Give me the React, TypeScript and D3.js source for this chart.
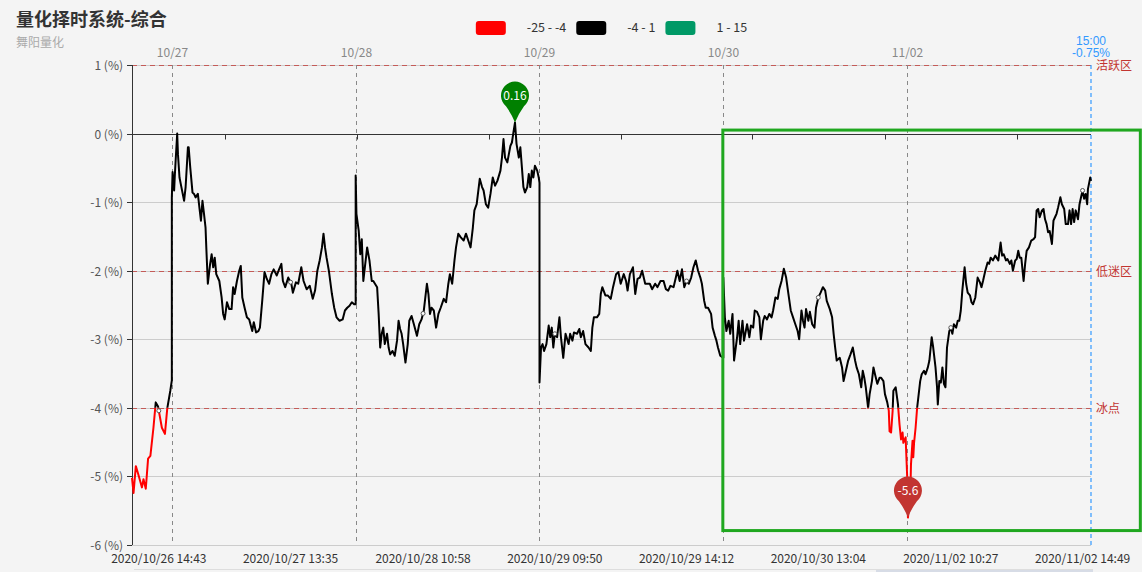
import React, { useEffect, useRef } from 'react';
import * as d3 from 'd3';

const W = 1142;
const H = 572;
const FONT = "'Noto Sans CJK SC', 'Noto Sans', sans-serif";
const FONT_TIGHT = "'Liberation Sans', 'Noto Sans CJK SC', sans-serif";

const title = '量化择时系统-综合';
const subtitle = '舞阳量化';

const pieceLabels = ['-25 - -4', '-4 - 1', '1 - 15'];
const pieceBounds: [number, number][] = [[-25, -4], [-4, 1], [1, 15]];
const pieceColors = ['#ff0000', '#000000', '#009966'];

const yTicks = [1, 0, -1, -2, -3, -4, -5, -6];
const zoneValues = [1, -2, -4];
const zoneLabels = ['活跃区', '低迷区', '冰点'];

const days = ['10/26', '10/27', '10/28', '10/29', '10/30', '11/02'];
const firstDayStartMinute = 188;
const minutesPerDay = 240;

// [minute of trading day, value %]
const d1026 = [[188,-5.02],[190,-5.24],[193,-4.85],[196,-4.96],[201,-5.16],[203,-5.04],[206,-5.18],[209,-4.74],[212,-4.70],[216,-4.29],[219,-3.92],[222,-3.98],[227,-4.29],[231,-4.38],[234,-4.01],[238,-3.75],[240,-3.6]];
const d1027 = [[0,-0.93],[1,-0.56],[3,-0.83],[4,-0.59],[5,-0.39],[7,0.0],[8,-0.30],[10,-0.64],[13,-0.81],[16,-0.98],[18,-0.78],[21,-0.2],[22,-0.2],[24,-0.49],[27,-0.86],[29,-0.88],[31,-0.93],[34,-0.88],[36,-1.08],[38,-1.27],[40,-0.98],[42,-1.17],[44,-1.37],[45,-1.66],[47,-2.19],[50,-1.90],[52,-1.76],[54,-1.95],[56,-1.81],[58,-2.05],[62,-2.15],[65,-2.39],[67,-2.63],[69,-2.71],[72,-2.46],[75,-2.56],[78,-2.56],[80,-2.24],[82,-2.34],[85,-2.15],[88,-2.0],[90,-1.93],[92,-2.39],[95,-2.54],[98,-2.68],[101,-2.71],[105,-2.88],[107,-2.75],[110,-2.90],[113,-2.88],[115,-2.83],[118,-2.44],[121,-2.02],[124,-2.12],[127,-2.19],[130,-2.05],[133,-1.98],[137,-2.07],[140,-1.98],[143,-1.90],[145,-2.15],[148,-2.24],[152,-2.10],[156,-2.19],[158,-2.32],[162,-2.17],[165,-2.19],[169,-1.95],[172,-2.15],[176,-2.27],[180,-2.22],[184,-2.41],[187,-2.29],[190,-2.0],[193,-1.85],[196,-1.66],[198,-1.46],[200,-1.66],[202,-1.81],[205,-2.0],[209,-2.34],[212,-2.54],[215,-2.68],[219,-2.73],[223,-2.71],[226,-2.58],[229,-2.54],[232,-2.51],[235,-2.46],[238,-2.49],[240,-2.49]];
const d1028 = [[0,-0.61],[1,-1.17],[4,-1.42],[6,-1.76],[8,-1.54],[10,-2.15],[12,-1.95],[15,-1.66],[18,-1.85],[21,-2.15],[23,-2.15],[28,-2.24],[30,-2.63],[32,-3.12],[34,-2.92],[36,-2.83],[38,-3.07],[41,-2.92],[43,-3.12],[45,-3.22],[48,-3.17],[51,-3.24],[54,-3.02],[56,-2.73],[58,-2.85],[60,-2.92],[62,-3.07],[65,-3.34],[68,-3.07],[70,-2.73],[73,-2.66],[76,-2.78],[80,-2.95],[83,-2.78],[86,-2.71],[89,-2.58],[93,-2.19],[95,-2.34],[97,-2.63],[99,-2.54],[102,-2.58],[105,-2.83],[108,-2.63],[111,-2.54],[115,-2.41],[118,-2.46],[121,-2.19],[123,-2.05],[126,-2.19],[129,-1.85],[131,-1.66],[134,-1.46],[137,-1.51],[141,-1.56],[144,-1.46],[147,-1.56],[150,-1.66],[153,-1.37],[155,-1.12],[158,-1.03],[162,-0.66],[165,-0.78],[167,-0.83],[170,-1.03],[173,-1.08],[176,-0.88],[179,-0.64],[182,-0.76],[185,-0.69],[189,-0.54],[191,-0.35],[193,-0.08],[195,-0.35],[198,-0.42],[200,-0.30],[202,-0.18],[204,-0.13],[206,0.02],[208,0.16],[210,-0.15],[213,-0.35],[215,-0.2],[217,-0.49],[219,-0.78],[221,-0.86],[224,-0.78],[226,-0.59],[228,-0.78],[230,-0.54],[232,-0.64],[234,-0.47],[237,-0.54],[239,-0.64],[240,-0.72]];
const d1029 = [[0,-3.63],[2,-3.12],[4,-3.07],[6,-3.17],[9,-3.07],[12,-2.80],[14,-2.97],[16,-2.83],[18,-3.12],[20,-2.92],[23,-2.97],[26,-2.68],[28,-2.97],[31,-3.27],[34,-2.92],[38,-3.07],[40,-2.92],[43,-3.02],[45,-2.90],[49,-2.92],[52,-2.85],[54,-2.97],[57,-2.88],[60,-3.07],[64,-3.12],[67,-3.17],[69,-2.83],[71,-2.68],[75,-2.68],[78,-2.63],[80,-2.34],[82,-2.24],[86,-2.36],[89,-2.36],[93,-2.41],[96,-2.24],[100,-2.05],[103,-2.02],[106,-2.19],[110,-2.05],[113,-2.15],[115,-2.29],[118,-2.05],[122,-1.95],[125,-2.34],[128,-2.12],[131,-2.10],[134,-2.0],[138,-2.19],[141,-2.19],[144,-2.19],[147,-2.27],[151,-2.19],[154,-2.24],[158,-2.15],[162,-2.15],[165,-2.27],[168,-2.29],[171,-2.22],[175,-2.24],[178,-2.10],[180,-2.0],[183,-2.15],[186,-1.98],[189,-2.24],[192,-2.15],[195,-2.19],[198,-2.10],[201,-1.95],[204,-1.85],[207,-2.0],[210,-2.10],[212,-2.19],[215,-2.44],[217,-2.54],[220,-2.54],[224,-2.63],[226,-2.83],[229,-2.95],[231,-3.02],[233,-3.12],[236,-3.24],[240,-3.27]];
const d1030 = [[0,-2.10],[2,-2.68],[4,-2.88],[7,-2.73],[9,-2.92],[12,-2.63],[14,-3.31],[18,-2.97],[20,-2.73],[22,-3.07],[25,-2.73],[27,-3.02],[31,-2.78],[34,-2.97],[36,-2.80],[39,-2.83],[41,-2.58],[44,-2.60],[47,-2.68],[49,-3.0],[52,-2.73],[54,-2.66],[57,-2.71],[60,-2.63],[63,-2.68],[65,-2.58],[68,-2.39],[71,-2.41],[73,-2.27],[76,-2.15],[79,-1.97],[82,-2.10],[85,-2.34],[88,-2.58],[91,-2.68],[94,-2.78],[97,-2.88],[99,-3.0],[102,-2.58],[104,-2.73],[106,-2.83],[108,-2.56],[111,-2.73],[113,-2.60],[116,-2.78],[119,-2.83],[121,-2.54],[124,-2.39],[127,-2.32],[130,-2.24],[133,-2.29],[135,-2.44],[139,-2.56],[142,-2.68],[144,-2.92],[146,-3.12],[148,-3.31],[152,-3.27],[155,-3.41],[157,-3.61],[160,-3.46],[163,-3.31],[166,-3.22],[169,-3.12],[172,-3.31],[174,-3.41],[177,-3.51],[180,-3.70],[182,-3.46],[184,-3.56],[186,-3.70],[189,-4.0],[191,-3.80],[194,-3.61],[196,-3.41],[198,-3.51],[201,-3.65],[204,-3.56],[206,-3.56],[209,-3.61],[211,-3.80],[214,-3.92],[216,-4.04],[217,-4.34],[219,-4.36],[221,-4.05],[222,-3.75],[225,-3.70],[228,-3.95],[230,-4.24],[232,-4.46],[234,-4.36],[235,-4.51],[238,-4.43],[240,-5.0]];
const d1102 = [[1,-5.60],[4,-5.31],[5,-4.82],[7,-4.48],[8,-4.72],[9,-4.51],[11,-4.29],[13,-4.0],[17,-3.61],[19,-3.51],[22,-3.46],[24,-3.51],[27,-3.41],[29,-3.31],[32,-2.97],[34,-3.12],[37,-3.41],[39,-3.70],[40,-3.95],[42,-3.61],[44,-3.63],[46,-3.41],[48,-3.65],[50,-3.70],[52,-3.12],[55,-2.88],[57,-2.83],[59,-2.92],[61,-2.78],[64,-2.83],[66,-2.73],[68,-2.73],[70,-2.58],[72,-2.29],[75,-1.95],[77,-2.19],[79,-2.32],[82,-2.36],[84,-2.46],[86,-2.49],[89,-2.39],[92,-2.10],[95,-2.17],[97,-2.24],[99,-2.15],[102,-2.0],[105,-1.88],[107,-1.90],[109,-1.81],[112,-1.85],[115,-1.78],[119,-1.85],[122,-1.59],[124,-1.78],[126,-1.76],[129,-1.85],[131,-1.83],[134,-1.90],[136,-1.85],[138,-2.0],[141,-1.85],[143,-1.83],[145,-1.71],[147,-1.81],[149,-1.81],[152,-2.15],[154,-1.90],[156,-1.71],[159,-1.66],[162,-1.56],[165,-1.54],[167,-1.51],[169,-1.12],[171,-1.10],[173,-1.22],[176,-1.12],[178,-1.10],[180,-1.25],[182,-1.32],[184,-1.44],[186,-1.42],[189,-1.61],[191,-1.27],[193,-1.22],[195,-1.17],[197,-1.08],[200,-0.93],[202,-1.03],[205,-1.10],[207,-1.32],[210,-1.32],[212,-1.12],[214,-1.32],[216,-1.10],[218,-1.29],[220,-1.12],[223,-1.25],[225,-1.03],[227,-0.93],[229,-0.83],[231,-0.95],[233,-0.88],[235,-1.03],[236,-0.81],[239,-0.64],[240,-0.69]];
const dayData = [d1026, d1027, d1028, d1029, d1030, d1102];

const bottomLabels = ['2020/10/26 14:43', '2020/10/27 13:35', '2020/10/28 10:58', '2020/10/29 09:50', '2020/10/29 14:12', '2020/10/30 13:04', '2020/11/02 10:27', '2020/11/02 14:49'];
const lastQuote = { time: '15:00', value: -0.75 };

function dayOffset(k: number) {
  return k === 0 ? -firstDayStartMinute : (minutesPerDay - firstDayStartMinute) + (k - 1) * minutesPerDay;
}
function minuteOfDay(hm: string) {
  const [h, m] = hm.split(':').map(Number);
  const t = h * 60 + m;
  return t <= 11 * 60 + 30 ? t - (9 * 60 + 30) : 120 + t - 13 * 60;
}
function labelIndex(s: string) {
  const [date, time] = s.split(' ');
  const md = date.slice(5);
  const k = days.indexOf(md);
  return dayOffset(k) + minuteOfDay(time);
}

export default function App() {
  const ref = useRef<SVGSVGElement>(null);
  useEffect(() => {
    const svg = d3.select(ref.current);
    svg.selectAll('*').remove();
    const L = 132, R = 1091, T = 65, B = 545;
    const total = dayOffset(days.length - 1) + minutesPerDay;
    const x = d3.scaleLinear().domain([0, total]).range([L, R]);
    const y = d3.scaleLinear().domain([-6, 1]).range([B, T]);
    const pts: { idx: number; v: number }[] = [];
    dayData.forEach((arr, k) => arr.forEach(([m, v]) => pts.push({ idx: dayOffset(k) + m, v })));

    svg.append('rect').attr('width', W).attr('height', H).attr('fill', '#f4f4f4');

    // title
    svg.append('text').attr('x', 16).attr('y', 26).text(title)
      .attr('font-family', FONT).attr('font-size', 18).attr('font-weight', 'bold').attr('fill', '#333');
    svg.append('text').attr('x', 16).attr('y', 46.5).text(subtitle)
      .attr('font-family', FONT).attr('font-size', 12).attr('fill', '#aaa');

    // grid
    yTicks.forEach(v => {
      if (v === 0) return;
      svg.append('line').attr('x1', L).attr('x2', R).attr('y1', Math.round(y(v)) + 0.5).attr('y2', Math.round(y(v)) + 0.5)
        .attr('stroke', '#ccc').attr('stroke-width', 1);
    });

    // zone lines
    zoneValues.forEach((v, i) => {
      const yy = Math.round(y(v)) + 0.5;
      svg.append('line').attr('x1', L).attr('x2', R).attr('y1', yy).attr('y2', yy)
        .attr('stroke', '#c23531').attr('stroke-opacity', 0.75).attr('stroke-dasharray', '5,4').attr('stroke-width', 1.2);
      svg.append('text').attr('x', R + 5).attr('y', yy + 4.5).text(zoneLabels[i])
        .attr('font-family', FONT_TIGHT).attr('font-size', 12).attr('fill', '#c23531');
    });

    // day lines
    days.forEach((d, k) => {
      if (k === 0) return;
      const xx = Math.round(x(dayOffset(k))) + 0.5;
      svg.append('line').attr('x1', xx).attr('x2', xx).attr('y1', T).attr('y2', B)
        .attr('stroke', '#888').attr('stroke-dasharray', '4,4').attr('stroke-width', 1);
      svg.append('text').attr('x', xx).attr('y', 57).attr('text-anchor', 'middle').text(d)
        .attr('font-family', FONT).attr('font-size', 12).attr('fill', '#888');
    });

    // last quote line
    const xl = x(total);
    svg.append('line').attr('x1', xl).attr('x2', xl).attr('y1', T).attr('y2', B)
      .attr('stroke', '#3399ff').attr('stroke-dasharray', '4,3').attr('stroke-width', 1.2);
    svg.append('text').attr('x', xl).attr('y', 44.5).attr('text-anchor', 'middle').text(lastQuote.time)
      .attr('font-family', FONT_TIGHT).attr('font-size', 12).attr('fill', '#3399ff');
    svg.append('text').attr('x', xl).attr('y', 57).attr('text-anchor', 'middle').text(`${lastQuote.value.toFixed(2)}%`)
      .attr('font-family', FONT_TIGHT).attr('font-size', 12).attr('fill', '#3399ff');

    // y axis
    svg.append('line').attr('x1', L + 0.5).attr('x2', L + 0.5).attr('y1', T).attr('y2', B).attr('stroke', '#333');
    yTicks.forEach(v => {
      const yy = Math.round(y(v)) + 0.5;
      svg.append('line').attr('x1', L - 5).attr('x2', L).attr('y1', yy).attr('y2', yy).attr('stroke', '#333');
      svg.append('text').attr('x', L - 9).attr('y', yy).attr('dy', '0.35em').attr('text-anchor', 'end').text(`${v} (%)`)
        .attr('font-family', FONT).attr('font-size', 12).attr('fill', '#555');
    });

    // zero axis with ticks
    const y0 = Math.round(y(0)) + 0.5;
    svg.append('line').attr('x1', L).attr('x2', R).attr('y1', y0).attr('y2', y0).attr('stroke', '#333');
    const labIdx = bottomLabels.map(labelIndex);
    for (let i = 0; i < labIdx.length - 1; i++) {
      const xx = Math.round(x((labIdx[i] + labIdx[i + 1]) / 2)) + 0.5;
      svg.append('line').attr('x1', xx).attr('x2', xx).attr('y1', y0).attr('y2', y0 + 5).attr('stroke', '#333');
    }

    // bottom labels
    bottomLabels.forEach((s, i) => {
      svg.append('text').attr('x', x(labIdx[i])).attr('y', 563).attr('text-anchor', 'middle').text(s)
        .attr('font-family', FONT).attr('font-size', 12).attr('fill', '#333');
    });

    // data zoom strip
    svg.append('line').attr('x1', L + 2).attr('x2', R + 2).attr('y1', 569.5).attr('y2', 569.5).attr('stroke', '#ddd');
    svg.append('rect').attr('x', 876).attr('y', 570).attr('width', R + 2 - 876).attr('height', 3).attr('fill', '#d7dce6');

    // series by pieces
    const line = d3.line<{ idx: number; v: number }>().x(d => x(d.idx)).y(d => y(d.v));
    const defs = svg.append('defs');
    pieceBounds.forEach(([lo, hi], i) => {
      const yTop = Math.max(0, y(hi));
      const yBot = Math.min(H, y(lo));
      defs.append('clipPath').attr('id', `piece${i}`).append('rect')
        .attr('x', 0).attr('width', W).attr('y', yTop).attr('height', Math.max(0, yBot - yTop));
      svg.append('path').datum(pts).attr('d', line).attr('fill', 'none')
        .attr('stroke', pieceColors[i]).attr('stroke-width', 2).attr('stroke-linejoin', 'round')
        .attr('clip-path', `url(#piece${i})`);
    });

    // symbols at label points
    const interp = (idx: number) => {
      const j = d3.bisector((p: { idx: number }) => p.idx).left(pts, idx);
      if (j <= 0) return pts[0].v;
      if (j >= pts.length) return pts[pts.length - 1].v;
      const a = pts[j - 1], b = pts[j];
      return a.v + (b.v - a.v) * (idx - a.idx) / (b.idx - a.idx);
    };
    labIdx.forEach(idx => {
      svg.append('circle').attr('cx', x(idx)).attr('cy', y(interp(idx))).attr('r', 2)
        .attr('fill', '#fff').attr('stroke', '#555').attr('stroke-width', 1);
    });

    // pins
    const maxP = d3.greatest(pts, p => p.v)!;
    const minP = d3.least(pts, p => p.v)!;
    const pin = 'M -9 -16.3 A 14 14 0 1 1 9 -16.3 Q 3 -8 0 0 Q -3 -8 -9 -16.3 Z';
    [[maxP, '#008000'], [minP, '#c23531']].forEach(([p, c]: any) => {
      const g = svg.append('g').attr('transform', `translate(${x(p.idx)},${y(p.v)})`);
      g.append('path').attr('d', pin).attr('fill', c);
      g.append('text').attr('x', 0).attr('y', -27).attr('dy', '0.35em').attr('text-anchor', 'middle')
        .text(String(+p.v.toFixed(2))).attr('font-family', FONT).attr('font-size', 12).attr('fill', '#fff');
    });

    // highlight box
    svg.append('rect').attr('x', x(dayOffset(4)) - 0.5).attr('y', y(0) - 3.5).attr('width', 417.5).attr('height', 400.5)
      .attr('fill', 'none').attr('stroke', '#1fa71f').attr('stroke-width', 3);

    // legend
    const lg = svg.append('g');
    let cx = 0;
    pieceLabels.forEach((lab, i) => {
      lg.append('rect').attr('x', cx).attr('y', 21).attr('width', 30).attr('height', 14).attr('rx', 3)
        .attr('fill', pieceColors[i]);
      const t = lg.append('text').attr('x', cx + 51).attr('y', 32).text(lab)
        .attr('font-family', FONT).attr('font-size', 12.5).attr('fill', '#333');
      const w = (t.node() as SVGTextElement).getComputedTextLength();
      cx += 51 + w + 10;
    });
    const totalW = cx - 10;
    lg.attr('transform', `translate(${(L + R) / 2 - totalW / 2},0)`);
  }, []);
  return <svg ref={ref} width={W} height={H} style={{ position: 'absolute', left: 0, top: 0, display: 'block' }} />;
}
